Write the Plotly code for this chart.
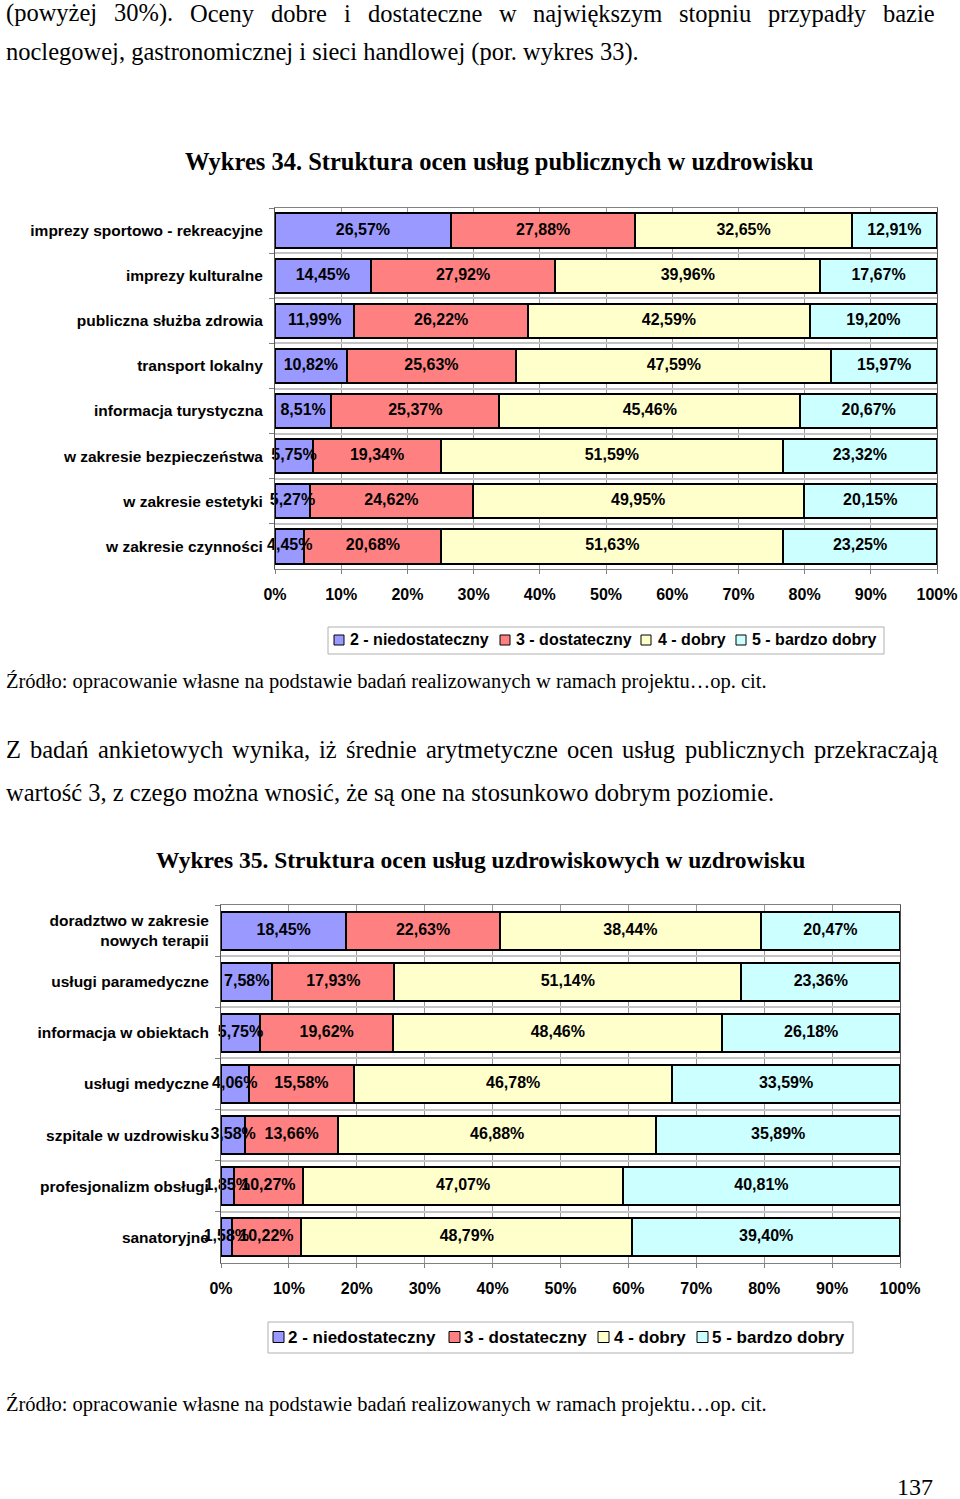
import plotly.graph_objects as go

W, H = 960, 1499
SERIF = "Liberation Serif"
SANS = "Liberation Sans"

# ---------------- data ----------------
series_names = ["2 - niedostateczny", "3 - dostateczny", "4 - dobry", "5 - bardzo dobry"]
series_colors = ["#9999FF", "#FF8080", "#FFFFCC", "#CCFFFF"]

cats1 = ["imprezy sportowo - rekreacyjne", "imprezy kulturalne", "publiczna służba zdrowia",
         "transport lokalny", "informacja turystyczna", "w zakresie bezpieczeństwa",
         "w zakresie estetyki", "w zakresie czynności"]
c1_niedostateczny = [26.57, 14.45, 11.99, 10.82, 8.51, 5.75, 5.27, 4.45]
c1_dostateczny = [27.88, 27.92, 26.22, 25.63, 25.37, 19.34, 24.62, 20.68]
c1_dobry = [32.65, 39.96, 42.59, 47.59, 45.46, 51.59, 49.95, 51.63]
c1_bardzo_dobry = [12.91, 17.67, 19.20, 15.97, 20.67, 23.32, 20.15, 23.25]

cats2 = ["doradztwo w zakresie<br>nowych terapii", "usługi paramedyczne", "informacja w obiektach",
         "usługi medyczne", "szpitale w uzdrowisku", "profesjonalizm obsługi", "sanatoryjne"]
c2_niedostateczny = [18.45, 7.58, 5.75, 4.06, 3.58, 1.85, 1.58]
c2_dostateczny = [22.63, 17.93, 19.62, 15.58, 13.66, 10.27, 10.22]
c2_dobry = [38.44, 51.14, 48.46, 46.78, 46.88, 47.07, 48.79]
c2_bardzo_dobry = [20.47, 23.36, 26.18, 33.59, 35.89, 40.81, 39.40]

x_tickvals = [0, 10, 20, 30, 40, 50, 60, 70, 80, 90, 100]
x_ticktext = ["0%", "10%", "20%", "30%", "40%", "50%", "60%", "70%", "80%", "90%", "100%"]


def fmt(v):
    return f"{v:.2f}".replace(".", ",") + "%"


def px(x):
    return x / W


def py(y):
    return 1 - y / H


fig = go.Figure()


def add_chart(cats, series, xa, ya, width):
    base = [0.0] * len(cats)
    label_x, label_y, label_t = [], [], []
    for name, color, vals in zip(series_names, series_colors, series):
        fig.add_trace(go.Bar(
            y=cats, x=vals, orientation="h", name=name, xaxis=xa, yaxis=ya,
            marker=dict(color=color, line=dict(color="black", width=2)),
            width=width, showlegend=False, hoverinfo="x+y+name",
        ))
        for i, v in enumerate(vals):
            label_x.append(base[i] + v / 2)
            label_y.append(cats[i])
            label_t.append(fmt(v))
            base[i] += v
    # value labels drawn above all bar segments (as in the original)
    fig.add_trace(go.Scatter(
        x=label_x, y=label_y, mode="text", text=label_t, textposition="middle center",
        textfont=dict(family=SANS, size=16, color="black", weight="bold"),
        xaxis=xa, yaxis=ya, cliponaxis=False, showlegend=False, hoverinfo="skip",
    ))


add_chart(cats1, [c1_niedostateczny, c1_dostateczny, c1_dobry, c1_bardzo_dobry], "x", "y", 0.76)
add_chart(cats2, [c2_niedostateczny, c2_dostateczny, c2_dobry, c2_bardzo_dobry], "x2", "y2", 0.745)

xcommon = dict(range=[0, 100], tickvals=x_tickvals, ticktext=x_ticktext, showgrid=True,
               gridcolor="#9a9a9a", gridwidth=1, showline=True, linecolor="#808080",
               linewidth=1, mirror=True, ticks="outside", ticklen=4, tickcolor="#808080",
               tickfont=dict(family=SANS, size=16, color="black", weight="bold"),
               zeroline=False, fixedrange=True, ticklabelstandoff=7, automargin=False)
ycommon = dict(autorange="reversed", tickson="boundaries", ticks="outside", ticklen=5,
               tickcolor="#808080", showgrid=True, gridcolor="#c4c4c4", gridwidth=2,
               showline=True, linecolor="#555555", linewidth=1, mirror=True,
               tickfont=dict(family=SANS, size=15.5, color="black", weight="bold"),
               fixedrange=True, ticklabelstandoff=8, automargin=False)

fig.update_layout(
    width=W, height=H, autosize=False,
    margin=dict(l=0, r=0, t=0, b=0, pad=0),
    paper_bgcolor="white", plot_bgcolor="white",
    barmode="stack",
    xaxis=dict(domain=[px(275), px(937)], anchor="y", **xcommon),
    yaxis=dict(domain=[py(569), py(208)], anchor="x", categoryorder="array",
               categoryarray=cats1, **ycommon),
    xaxis2=dict(domain=[px(221), px(900)], anchor="y2", **xcommon),
    yaxis2=dict(domain=[py(1263), py(905)], anchor="x2", categoryorder="array",
                categoryarray=cats2, **ycommon),
)

annotations = []
shapes = []


def txt(s, x, y, size, anchor="left", bold=False, family=SERIF):
    annotations.append(dict(
        text=s, x=px(x), y=py(y), xref="paper", yref="paper", xanchor=anchor,
        yanchor="middle", showarrow=False,
        font=dict(family=family, size=size, color="black", weight="bold" if bold else "normal"),
    ))


# justified first line
line1_words = ["(powyżej", "30%).", "Oceny", "dobre", "i", "dostateczne", "w",
               "największym", "stopniu", "przypadły", "bazie"]
line1_x = [4, 112, 188, 269, 342, 366, 497, 531, 677, 766, 881]
for w_, x_ in zip(line1_words, line1_x):
    txt(w_, x_, 13, 24.5)
txt("noclegowej, gastronomicznej i sieci handlowej (por. wykres 33).", 4, 52, 24.5)

txt("Wykres 34. Struktura ocen usług publicznych w uzdrowisku", 499.5, 162, 24.5,
    anchor="center", bold=True)

txt("Źródło: opracowanie własne na podstawie badań realizowanych w ramach projektu…op. cit.",
    4, 681, 20.5)

line2_words = ["Z", "badań", "ankietowych", "wynika,", "iż", "średnie", "arytmetyczne", "ocen",
               "usług", "publicznych", "przekraczają"]
line2_x = [4, 28, 96, 230, 317, 344, 424, 565, 620, 683, 812]
for w_, x_ in zip(line2_words, line2_x):
    txt(w_, x_, 749, 24.5)
txt("wartość 3, z czego można wnosić, że są one na stosunkowo dobrym poziomie.", 4, 792, 24.5)

txt("Wykres 35. Struktura ocen usług uzdrowiskowych w uzdrowisku", 480.5, 860, 23.5,
    anchor="center", bold=True)

txt("Źródło: opracowanie własne na podstawie badań realizowanych w ramach projektu…op. cit.",
    4, 1404, 20.5)
txt("137", 915, 1487, 24, anchor="center")


# manual legends
def legend(box, yc, sq_x, tx_x, size, sq):
    shapes.append(dict(type="rect", xref="paper", yref="paper",
                       x0=px(box[0]), x1=px(box[1]), y0=py(box[2]), y1=py(box[3]),
                       line=dict(color="#b0b0b0", width=1), fillcolor="white", layer="below"))
    for name, color, sx, tx in zip(series_names, series_colors, sq_x, tx_x):
        shapes.append(dict(type="rect", xref="paper", yref="paper",
                           x0=px(sx), x1=px(sx + sq), y0=py(yc + sq / 2), y1=py(yc - sq / 2),
                           line=dict(color="black", width=1), fillcolor=color))
        txt(name, tx, yc, size, bold=True, family=SANS)


legend((328, 884, 654, 627), 640, [334, 500, 641, 736], [348, 514, 656, 750], 16, 10)
legend((268, 853, 1353, 1322), 1337, [273, 449, 598, 697], [286, 462, 612, 710], 17, 11)

fig.update_layout(annotations=annotations, shapes=shapes)
fig.write_html("out.html", config={"displayModeBar": False},
               post_script="document.body.style.margin='0px';document.body.style.overflow='hidden';")
